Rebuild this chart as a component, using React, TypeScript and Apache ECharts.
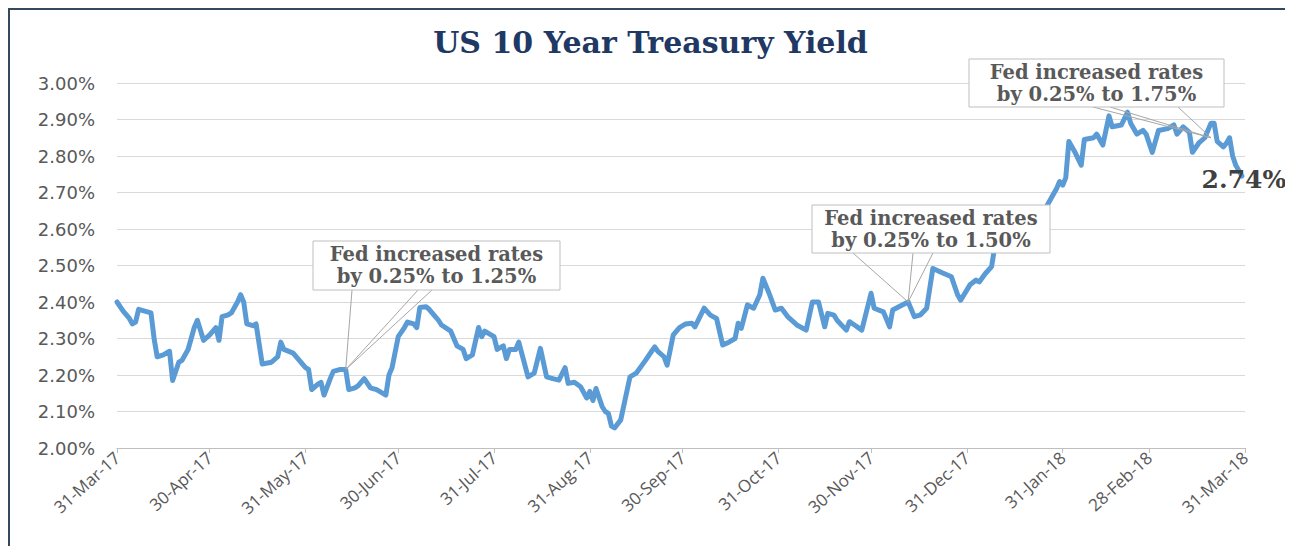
import React, { useEffect, useRef } from "react";
import * as echarts from "echarts";

const chartTitle = "US 10 Year Treasury Yield";

const dates = [
  "2017-03-31","2017-04-02","2017-04-04","2017-04-05","2017-04-06","2017-04-07","2017-04-09","2017-04-11","2017-04-12","2017-04-13",
  "2017-04-15","2017-04-17","2017-04-18","2017-04-20","2017-04-21","2017-04-23","2017-04-25","2017-04-26","2017-04-28","2017-04-30",
  "2017-05-02","2017-05-03","2017-05-04","2017-05-06","2017-05-07","2017-05-09","2017-05-10","2017-05-11","2017-05-12","2017-05-14",
  "2017-05-15","2017-05-17","2017-05-20","2017-05-22","2017-05-23","2017-05-24","2017-05-27","2017-05-29","2017-05-31","2017-06-01",
  "2017-06-02","2017-06-04","2017-06-05","2017-06-06","2017-06-08","2017-06-09","2017-06-11","2017-06-13","2017-06-14","2017-06-16",
  "2017-06-17","2017-06-19","2017-06-21","2017-06-23","2017-06-26","2017-06-27","2017-06-28","2017-06-30","2017-07-02","2017-07-03",
  "2017-07-05","2017-07-06","2017-07-07","2017-07-09","2017-07-10","2017-07-12","2017-07-13","2017-07-14","2017-07-17","2017-07-19",
  "2017-07-21","2017-07-22","2017-07-24","2017-07-26","2017-07-27","2017-07-28","2017-07-30","2017-07-31","2017-08-01","2017-08-03",
  "2017-08-04","2017-08-05","2017-08-07","2017-08-08","2017-08-11","2017-08-13","2017-08-15","2017-08-17","2017-08-19","2017-08-21",
  "2017-08-23","2017-08-24","2017-08-26","2017-08-28","2017-08-30","2017-08-31","2017-09-01","2017-09-02","2017-09-04","2017-09-05",
  "2017-09-06","2017-09-07","2017-09-08","2017-09-10","2017-09-13","2017-09-15","2017-09-18","2017-09-20","2017-09-21","2017-09-22",
  "2017-09-24","2017-09-25","2017-09-27","2017-09-29","2017-10-01","2017-10-03","2017-10-04","2017-10-07","2017-10-09","2017-10-11",
  "2017-10-13","2017-10-15","2017-10-17","2017-10-18","2017-10-19","2017-10-21","2017-10-23","2017-10-25","2017-10-26","2017-10-28",
  "2017-10-30","2017-11-01","2017-11-03","2017-11-05","2017-11-06","2017-11-09","2017-11-11","2017-11-13","2017-11-15","2017-11-16",
  "2017-11-18","2017-11-19","2017-11-22","2017-11-23","2017-11-25","2017-11-27","2017-11-30","2017-12-01","2017-12-04","2017-12-06",
  "2017-12-07","2017-12-09","2017-12-12","2017-12-14","2017-12-16","2017-12-18","2017-12-20","2017-12-23","2017-12-26","2017-12-28",
  "2017-12-29","2018-01-01","2018-01-03","2018-01-04","2018-01-06","2018-01-08","2018-01-09","2018-01-11","2018-01-14","2018-01-17",
  "2018-01-19","2018-01-22","2018-01-24","2018-01-26","2018-01-29","2018-01-30","2018-01-31","2018-02-01","2018-02-02","2018-02-04",
  "2018-02-06","2018-02-07","2018-02-10","2018-02-11","2018-02-13","2018-02-15","2018-02-16","2018-02-19","2018-02-21","2018-02-22",
  "2018-02-24","2018-02-26","2018-02-27","2018-03-01","2018-03-03","2018-03-06","2018-03-08","2018-03-09","2018-03-11","2018-03-13",
  "2018-03-14","2018-03-16","2018-03-18","2018-03-20","2018-03-21","2018-03-22","2018-03-24","2018-03-25","2018-03-26","2018-03-27",
  "2018-03-28","2018-03-30"
];

const yields = [
  2.40,2.375,2.355,2.34,2.345,2.38,2.375,2.37,2.30,2.25,
  2.255,2.265,2.185,2.235,2.24,2.27,2.33,2.35,2.295,2.31,
  2.33,2.295,2.36,2.365,2.37,2.40,2.42,2.40,2.34,2.335,
  2.34,2.23,2.235,2.25,2.29,2.27,2.26,2.24,2.22,2.215,
  2.16,2.175,2.18,2.145,2.19,2.21,2.215,2.215,2.16,2.165,
  2.17,2.19,2.165,2.16,2.145,2.20,2.22,2.305,2.33,2.345,
  2.34,2.33,2.385,2.387,2.38,2.36,2.35,2.337,2.32,2.28,
  2.27,2.245,2.255,2.33,2.305,2.32,2.31,2.305,2.27,2.28,
  2.245,2.27,2.27,2.29,2.195,2.205,2.273,2.195,2.19,2.186,
  2.22,2.177,2.18,2.168,2.137,2.155,2.13,2.163,2.113,2.10,
  2.095,2.06,2.055,2.077,2.195,2.205,2.24,2.265,2.277,2.265,
  2.25,2.227,2.31,2.33,2.34,2.342,2.332,2.383,2.364,2.355,
  2.282,2.29,2.30,2.342,2.328,2.392,2.383,2.42,2.465,2.424,
  2.378,2.383,2.36,2.345,2.337,2.323,2.40,2.40,2.332,2.369,
  2.364,2.35,2.323,2.346,2.335,2.323,2.424,2.383,2.373,2.332,
  2.378,2.387,2.40,2.36,2.365,2.383,2.492,2.48,2.469,2.42,
  2.405,2.447,2.46,2.455,2.478,2.497,2.55,2.55,2.555,2.59,
  2.62,2.64,2.63,2.665,2.71,2.73,2.72,2.74,2.84,2.81,
  2.775,2.845,2.85,2.86,2.83,2.91,2.88,2.885,2.92,2.89,
  2.86,2.87,2.86,2.81,2.87,2.875,2.885,2.86,2.88,2.865,
  2.81,2.835,2.85,2.89,2.89,2.84,2.825,2.835,2.85,2.80,
  2.775,2.745
];

const tickDates = [
  "2017-03-31","2017-04-30","2017-05-31","2017-06-30","2017-07-31","2017-08-31","2017-09-30",
  "2017-10-31","2017-11-30","2017-12-31","2018-01-31","2018-02-28","2018-03-31"
];

const yMin = 2.0;
const yMax = 3.0;
const yStep = 0.1;

const annotationDates = ["2017-06-13", "2017-12-12", "2018-03-20"];
const annotationValues = [2.215, 2.40, 2.85];
const annotationTexts = [
  "Fed increased rates\nby 0.25% to 1.25%",
  "Fed increased rates\nby 0.25% to 1.50%",
  "Fed increased rates\nby 0.25% to 1.75%"
];
const lastValueLabel = "2.74%";

const MONTHS = ["Jan","Feb","Mar","Apr","May","Jun","Jul","Aug","Sep","Oct","Nov","Dec"];

// layout of the callout boxes (pixels in the chart)
const boxLayout = [
  { x: 305, y: 233, w: 247, h: 49, base: [344, 410, 424] },
  { x: 804, y: 197, w: 238, h: 48, base: [845, 905, 925] },
  { x: 961, y: 51, w: 255, h: 48, base: [1085, 1102, 1170] }
];

function ts(s: string): number {
  const p = s.split("-").map(Number);
  return new Date(p[0], p[1] - 1, p[2]).getTime();
}

function fmtDate(v: number): string {
  const d = new Date(v);
  return d.getDate() + "-" + MONTHS[d.getMonth()] + "-" + String(d.getFullYear()).slice(2);
}

export default function App() {
  const ref = useRef<HTMLDivElement>(null);

  useEffect(() => {
    if (!ref.current) return;
    const chart = echarts.init(ref.current, undefined, { renderer: "svg" });
    const tickTs = tickDates.map(ts);
    const option: any = {
      animation: false,
      backgroundColor: "#ffffff",
      title: {
        text: chartTitle,
        left: "center",
        top: 14,
        textStyle: {
          fontFamily: "DejaVu Serif",
          fontWeight: "bold",
          fontSize: 30,
          color: "#1F3864"
        }
      },
      grid: { left: 109, right: 48, top: 75, bottom: 98 },
      xAxis: {
        type: "value",
        min: tickTs[0],
        max: tickTs[tickTs.length - 1],
        axisLine: { show: true, lineStyle: { color: "#bfbfbf", width: 1 } },
        axisTick: { show: true, customValues: tickTs, length: 5, lineStyle: { color: "#bfbfbf" } },
        axisLabel: {
          customValues: tickTs,
          rotate: 42,
          formatter: (v: number) => fmtDate(v),
          color: "#595959",
          fontSize: 17,
          fontFamily: "Open Sans",
          margin: 7
        },
        splitLine: { show: false }
      },
      yAxis: {
        type: "value",
        min: yMin,
        max: yMax,
        interval: yStep,
        axisLine: { show: false },
        axisTick: { show: false },
        axisLabel: {
          formatter: (v: number) => v.toFixed(2) + "%",
          color: "#595959",
          fontSize: 18,
          fontFamily: "DejaVu Sans",
          margin: 22
        },
        splitLine: { lineStyle: { color: "#d9d9d9", width: 1 } }
      },
      series: [
        {
          type: "line",
          data: dates.map((d, i) => [ts(d), yields[i]]),
          showSymbol: false,
          lineStyle: { color: "#5B9BD5", width: 5, cap: "round", join: "round" },
          itemStyle: { color: "#5B9BD5" },
          z: 2
        }
      ]
    };
    chart.setOption(option);

    const elements: any[] = [];
    elements.push({
      type: "rect",
      z: 100,
      silent: true,
      shape: { x: 1, y: 1, width: 1282, height: 700 },
      style: { fill: "none", stroke: "#34495e", lineWidth: 2 }
    });
    annotationDates.forEach((d, i) => {
      const tip = chart.convertToPixel({ gridIndex: 0 }, [ts(d), annotationValues[i]]) as number[];
      const b = boxLayout[i];
      b.base.forEach((bx) => {
        elements.push({
          type: "line",
          z: 100,
          silent: true,
          shape: { x1: bx, y1: b.y + b.h, x2: tip[0], y2: tip[1] },
          style: { stroke: "#a6a6a6", lineWidth: 1 }
        });
      });
      elements.push({
        type: "rect",
        z: 101,
        silent: true,
        shape: { x: b.x, y: b.y, width: b.w, height: b.h },
        style: { fill: "#ffffff", stroke: "#bfbfbf", lineWidth: 1 }
      });
      elements.push({
        type: "text",
        z: 102,
        silent: true,
        x: b.x + b.w / 2,
        y: b.y + b.h / 2,
        style: {
          text: annotationTexts[i],
          align: "center",
          verticalAlign: "middle",
          fontFamily: "DejaVu Serif",
          fontWeight: "bold",
          fontSize: 19.5,
          lineHeight: 22,
          fill: "#595959"
        }
      });
    });
    const lastPt = chart.convertToPixel({ gridIndex: 0 }, [ts(dates[dates.length - 1]), yields[yields.length - 1]]) as number[];
    elements.push({
      type: "text",
      z: 102,
      silent: true,
      x: lastPt[0] + 2,
      y: lastPt[1] + 3,
      style: {
        text: lastValueLabel,
        align: "center",
        verticalAlign: "middle",
        fontFamily: "DejaVu Serif",
        fontWeight: "bold",
        fontSize: 25,
        fill: "#404040"
      }
    });
    chart.setOption({ graphic: { elements } });

    return () => chart.dispose();
  }, []);

  return <div ref={ref} style={{ width: 1285, height: 538 }} />;
}
